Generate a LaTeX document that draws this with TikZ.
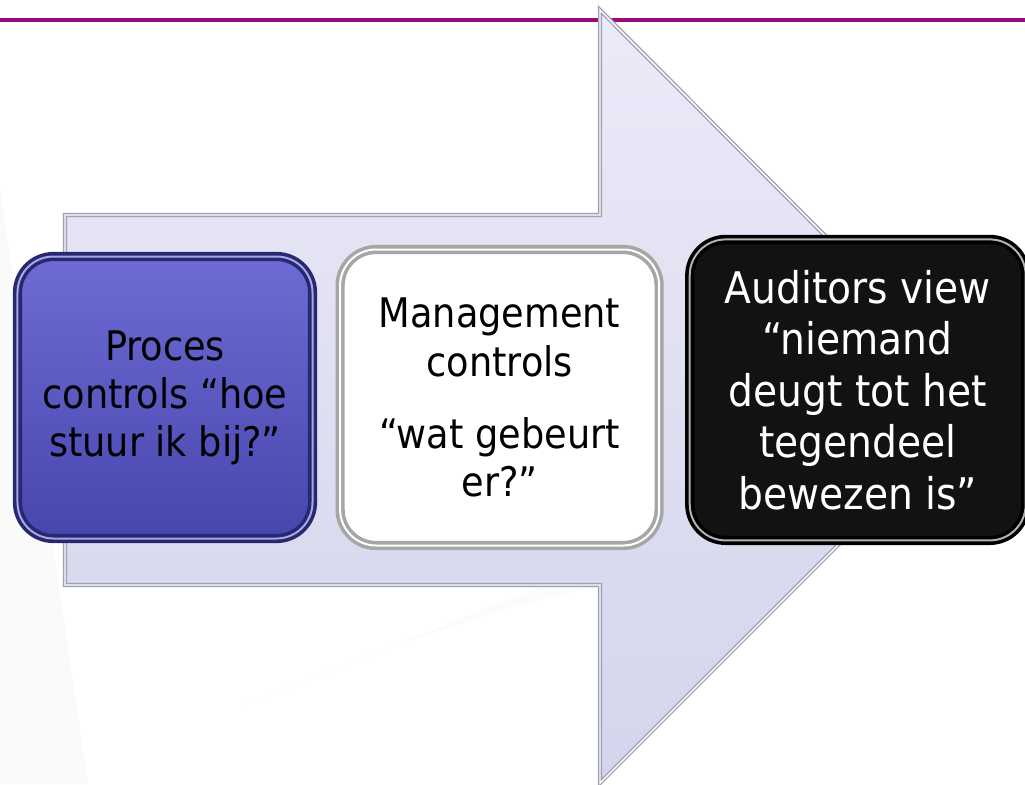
\documentclass[tikz,border=0pt]{standalone}
\usepackage{fontspec}
\setmainfont{DejaVu Sans Condensed}
\usetikzlibrary{positioning}
\definecolor{lijn}{RGB}{155,10,125}
\definecolor{pijltop}{RGB}{234,234,248}
\definecolor{pijlbot}{RGB}{212,212,236}
\definecolor{pijlrand}{RGB}{160,160,182}
\definecolor{blauwtop}{RGB}{108,108,212}
\definecolor{blauwbot}{RGB}{70,70,174}
\definecolor{blauwrand}{RGB}{40,40,112}

\tikzset{
  blok/.style={rectangle, rounded corners=9mm, align=center, inner sep=0pt,
    line width=0.9mm, double distance=0.5mm},
  tekst/.style={font=\fontsize{29}{34.2}\selectfont},
  grotetekst/.style={font=\fontsize{31}{36.6}\selectfont},
  pijl/.style={draw=pijlrand, line width=0.35mm, double=white, double distance=0.35mm,
    top color=pijltop, bottom color=pijlbot, line join=miter},
}

\begin{document}
\begin{tikzpicture}[x=0.25mm,y=-0.25mm]
\useasboundingbox (0,0) rectangle (1025,784);
\fill[white] (0,0) rectangle (1025,784);
% faint background swooshes
\fill[gray!4] (0,190) -- (88,784) -- (0,784) -- cycle;
\fill[gray!3] (245,705) .. controls (400,640) and (520,600) .. (610,585) -- (610,560) .. controls (480,610) and (360,660) .. (245,705) -- cycle;
% top line
\draw[lijn, line width=0.8mm] (0,20) -- (1025,20);
% big arrow
\draw[pijl] (65,215) -- (600,215) -- (600,10) -- (986,397) -- (600,783) -- (600,585) -- (65,585) -- cycle;
% the three blocks
\node[blok, tekst, draw=blauwrand, double=blauwtop!60!white, top color=blauwtop, bottom color=blauwbot,
  minimum width=73.75mm, minimum height=70.5mm] (proces) at (165,397.5)
  {Proces\\controls “hoe\\stuur ik bij?”};
\node[blok, tekst, draw=gray!70, double=white, fill=white,
  minimum width=79.75mm, minimum height=74mm, right=6mm of proces] (mgmt)
  {Management\\controls\\[6mm]“wat gebeurt\\er?”};
\node[blok, grotetekst, draw=black, double=gray!60, fill=black!93, text=white,
  minimum width=84mm, minimum height=75.25mm, right=6.75mm of mgmt, yshift=1.9mm] (audit)
  {Auditors view\\“niemand\\deugt tot het\\tegendeel\\bewezen is”};
\end{tikzpicture}
\end{document}
